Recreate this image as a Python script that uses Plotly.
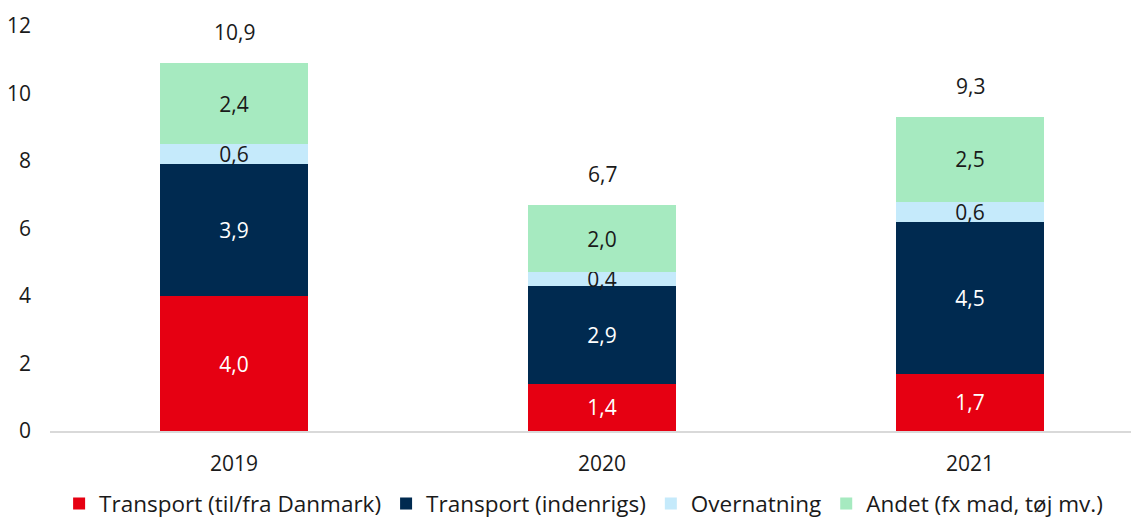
import plotly.graph_objects as go

categories = ["2019", "2020", "2021"]
series_names = [
    "Transport (til/fra Danmark)",
    "Transport (indenrigs)",
    "Overnatning",
    "Andet (fx mad, tøj mv.)",
]
transport_udland = [4.0, 1.4, 1.7]
transport_indenrigs = [3.9, 2.9, 4.5]
overnatning = [0.6, 0.4, 0.6]
andet = [2.4, 2.0, 2.5]
y_ticks = [0, 2, 4, 6, 8, 10, 12]

colors = ["#E60012", "#002A50", "#C5EAFB", "#A6EAC0"]
text_colors = ["#FFFFFF", "#FFFFFF", "#1A1A1A", "#1A1A1A"]
FONT = "Open Sans"
FS = 21

fig = go.Figure()
for name, vals, c, tc in zip(series_names,
                             [transport_udland, transport_indenrigs, overnatning, andet],
                             colors, text_colors):
    fig.add_trace(go.Bar(
        x=categories, y=vals, name=name,
        marker=dict(color=c, line=dict(width=0)),
        texttemplate="%{y:.1f}", textposition="inside",
        insidetextanchor="middle", textangle=0, constraintext="none",
        textfont=dict(color=tc, size=FS, family=FONT),
        hoverinfo="skip",
    ))

totals = [round(a + b + c + d, 1) for a, b, c, d in
          zip(transport_udland, transport_indenrigs, overnatning, andet)]
for i, tot in enumerate(totals):
    fig.add_annotation(x=i, y=tot, xref="x", yref="y",
                       text=f"{tot:.1f}".replace(".", ","),
                       showarrow=False, yshift=31,
                       font=dict(size=FS, family=FONT, color="#1A1A1A"))

fig.update_layout(
    width=1131, height=511,
    barmode="stack", bargap=0.6,
    separators=", ",
    paper_bgcolor="white", plot_bgcolor="white",
    margin=dict(l=42, r=0, t=18, b=88, autoexpand=False),
    font=dict(family=FONT, size=FS, color="#1A1A1A"),
    showlegend=True,
    legend=dict(orientation="h", x=0.490, xanchor="center", y=-0.180, yanchor="middle",
                font=dict(size=22.5, family=FONT, color="#1A1A1A"),
                itemwidth=30, traceorder="normal", itemclick=False),
)
fig.update_xaxes(type="category", range=[-0.5, 2.459], showline=True, linecolor="#D9D9D9",
                 linewidth=2, showgrid=False, ticks="", ticklabelstandoff=13, fixedrange=True)
fig.update_yaxes(range=[0, 12], tickvals=y_ticks, showgrid=False, zeroline=False,
                 showline=False, ticks="", ticklabelstandoff=18, fixedrange=True)

fig.write_html("out.html")
